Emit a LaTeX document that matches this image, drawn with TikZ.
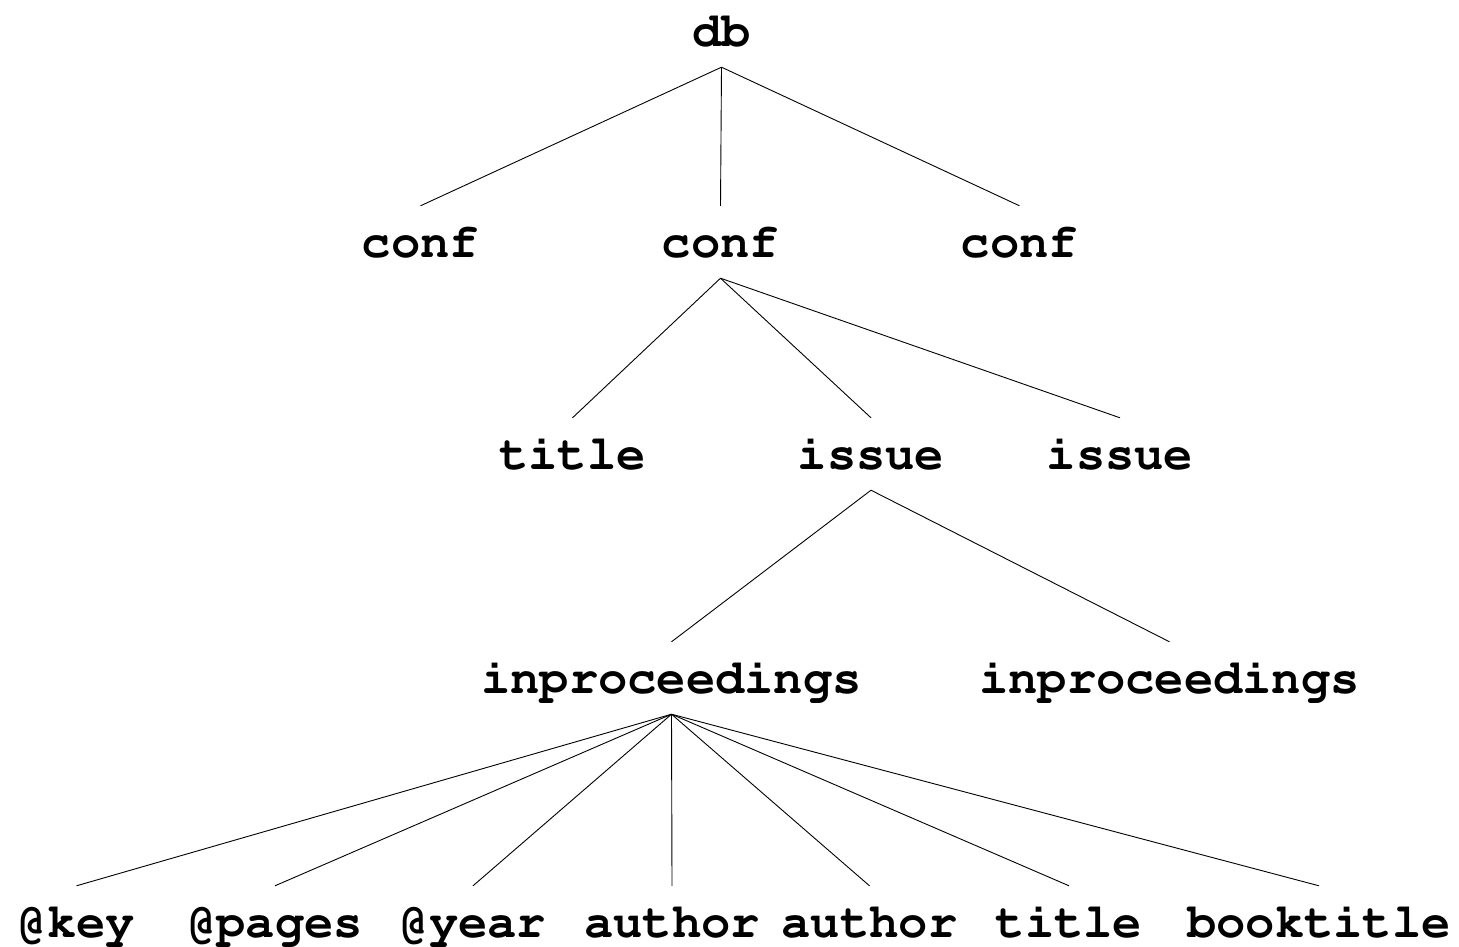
\documentclass[tikz,border=0pt]{standalone}
\newcommand{\crfont}{\fontencoding{T1}\fontfamily{pcr}\fontseries{b}\fontshape{n}\fontsize{48.8}{50}\selectfont}
\begin{document}
\begin{tikzpicture}[x=1pt,y=-1pt,
  lbl/.style={font=\crfont, inner sep=0pt,
    text height=31pt, text depth=0pt, minimum height=72pt},
  edge/.style={line width=0.9pt}]
\useasboundingbox (0,0) rectangle (1459,947);
% level 0
\node[lbl] (db) at (721.5,31) {db};
% level 1
\node[lbl] (c1) at (420.5,242) {conf};
\node[lbl] (c2) at (720.5,242) {conf};
\node[lbl] (c3) at (1019.5,242) {conf};
% level 2
\node[lbl] (t1) at (572.5,454) {title};
\node[lbl] (i1) at (871,454) {issue};
\node[lbl] (i2) at (1120,454) {issue};
% level 3
\node[lbl] (p1) at (671.5,678) {inproceedings};
\node[lbl] (p2) at (1169.5,678) {inproceedings};
% level 4
\node[lbl] (k) at (76.5,922) {@key};
\node[lbl] (pg) at (275,922) {@pages};
\node[lbl] (yr) at (473,922) {@year};
\node[lbl] (a1) at (672,922) {author};
\node[lbl] (a2) at (869.5,922) {author};
\node[lbl] (t2) at (1069,922) {title};
\node[lbl] (bt) at (1319,922) {booktitle};
% edges
\foreach \c in {c1,c2,c3} \draw[edge] (db.south) -- (\c.north);
\foreach \c in {t1,i1,i2} \draw[edge] (c2.south) -- (\c.north);
\foreach \c in {p1,p2} \draw[edge] (i1.south) -- (\c.north);
\foreach \c in {k,pg,yr,a1,a2,t2,bt} \draw[edge] (p1.south) -- (\c.north);
\end{tikzpicture}
\end{document}
